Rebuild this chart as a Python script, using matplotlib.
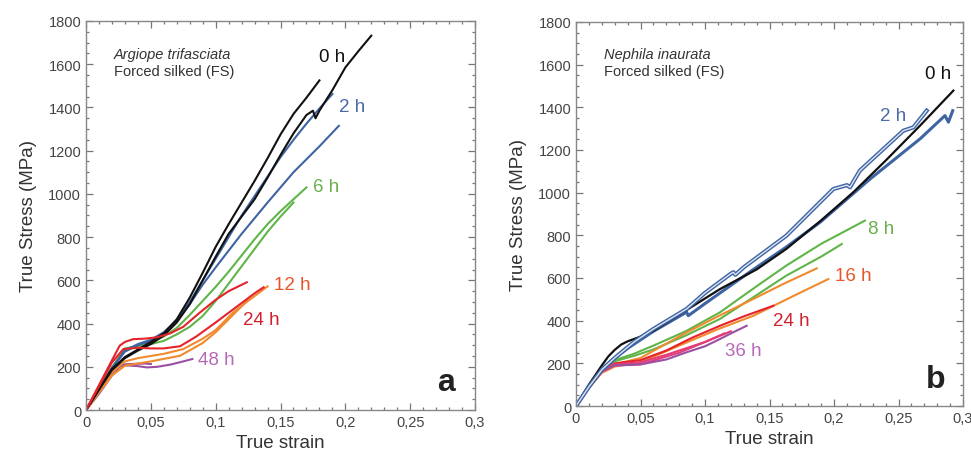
import matplotlib
matplotlib.use("Agg")
import matplotlib.pyplot as plt
from matplotlib.ticker import MultipleLocator

plt.rcParams['font.family'] = ['Liberation Sans', 'DejaVu Sans']

# ---- panel a : Argiope trifasciata ----
black_a1_x = [0, 0.01, 0.02, 0.03, 0.04, 0.05, 0.06, 0.07, 0.08, 0.09, 0.10, 0.11, 0.12, 0.13, 0.14, 0.15, 0.16, 0.17, 0.18]
black_a1_y = [0, 95, 190, 245, 280, 315, 355, 420, 520, 635, 755, 860, 960, 1060, 1165, 1275, 1370, 1445, 1525]
black_a2_x = [0, 0.01, 0.02, 0.03, 0.04, 0.05, 0.06, 0.07, 0.08, 0.09, 0.10, 0.11, 0.12, 0.13, 0.14, 0.15, 0.16, 0.17, 0.175, 0.177, 0.18, 0.19, 0.20, 0.21, 0.22]
black_a2_y = [0, 95, 185, 240, 275, 305, 345, 405, 490, 600, 710, 815, 895, 975, 1075, 1180, 1280, 1365, 1385, 1350, 1385, 1480, 1585, 1660, 1732]
blue_a1_x = [0, 0.01, 0.02, 0.03, 0.04, 0.05, 0.06, 0.07, 0.08, 0.09, 0.10, 0.11, 0.12, 0.13, 0.14, 0.15, 0.16, 0.17, 0.18, 0.19]
blue_a1_y = [0, 100, 195, 270, 300, 320, 355, 415, 500, 600, 700, 800, 900, 990, 1080, 1170, 1250, 1325, 1395, 1462]
blue_a2_x = [0, 0.01, 0.02, 0.03, 0.04, 0.05, 0.06, 0.07, 0.08, 0.09, 0.10, 0.12, 0.14, 0.16, 0.18, 0.195]
blue_a2_y = [0, 100, 195, 275, 305, 325, 360, 415, 490, 580, 660, 815, 960, 1100, 1220, 1315]
green_a1_x = [0, 0.01, 0.02, 0.03, 0.04, 0.05, 0.06, 0.07, 0.08, 0.09, 0.10, 0.11, 0.12, 0.13, 0.14, 0.15, 0.16, 0.17]
green_a1_y = [0, 100, 195, 280, 300, 315, 340, 380, 440, 505, 570, 640, 715, 790, 860, 920, 975, 1030]
green_a2_x = [0, 0.01, 0.02, 0.03, 0.04, 0.05, 0.06, 0.07, 0.08, 0.09, 0.10, 0.11, 0.12, 0.13, 0.14, 0.15, 0.16]
green_a2_y = [0, 100, 195, 285, 295, 305, 320, 350, 385, 435, 505, 585, 665, 745, 825, 895, 960]
red_a1_x = [0, 0.01, 0.02, 0.026, 0.03, 0.0365, 0.045, 0.0545, 0.065, 0.075, 0.088, 0.10, 0.11, 0.124]
red_a1_y = [0, 115, 230, 298, 315, 328, 330, 336, 355, 385, 452, 510, 550, 591]
red_a2_x = [0, 0.01, 0.02, 0.0288, 0.04, 0.05, 0.06, 0.0725, 0.085, 0.10, 0.11, 0.12, 0.13, 0.137]
red_a2_y = [0, 110, 220, 282, 288, 285, 285, 295, 340, 405, 450, 495, 540, 568]
orange_a1_x = [0, 0.01, 0.02, 0.03, 0.04, 0.05, 0.06, 0.075, 0.09, 0.10, 0.1136, 0.125, 0.14]
orange_a1_y = [0, 90, 175, 225, 240, 250, 260, 282, 330, 370, 452, 505, 572]
orange_a2_x = [0, 0.01, 0.02, 0.03, 0.05, 0.0725, 0.09, 0.10, 0.11, 0.12, 0.125]
orange_a2_y = [0, 80, 160, 205, 225, 251, 310, 360, 420, 480, 510]
purple_a1_x = [0, 0.01, 0.02, 0.026, 0.03, 0.04, 0.047, 0.055, 0.065, 0.075, 0.082]
purple_a1_y = [0, 75, 160, 200, 207, 203, 197, 200, 210, 225, 236]
purple_a2_x = [0, 0.01, 0.02, 0.026, 0.035, 0.045, 0.05]
purple_a2_y = [0, 85, 175, 210, 213, 215, 213]

# ---- panel b : Nephila inaurata ----
black_b_x = [0, 0.01, 0.02, 0.025, 0.03, 0.035, 0.04, 0.05, 0.06, 0.08, 0.1116, 0.14, 0.163, 0.19, 0.215, 0.24, 0.2667, 0.2925]
black_b_y = [0, 100, 190, 232, 263, 288, 303, 325, 352, 428, 548, 640, 736, 870, 1002, 1150, 1314, 1478]
blue_b1_x = [0, 0.01, 0.02, 0.03, 0.045, 0.06, 0.0858, 0.10, 0.12, 0.122, 0.1235, 0.13, 0.163, 0.18, 0.1995, 0.21, 0.2124, 0.22, 0.2537, 0.2615, 0.2718]
blue_b1_y = [0, 90, 170, 225, 300, 361, 455, 530, 620, 627, 615, 650, 798, 900, 1017, 1035, 1025, 1103, 1290, 1306, 1384]
blue_b2_x = [0, 0.01, 0.02, 0.03, 0.04, 0.05, 0.06, 0.08, 0.0858, 0.087, 0.10, 0.1375, 0.163, 0.189, 0.228, 0.2667, 0.286, 0.2887, 0.292]
blue_b2_y = [0, 90, 170, 225, 270, 310, 350, 420, 440, 423, 480, 640, 745, 860, 1064, 1252, 1361, 1330, 1384]
green_b1_x = [0, 0.01, 0.02, 0.03, 0.045, 0.06, 0.085, 0.1116, 0.135, 0.163, 0.19, 0.224]
green_b1_y = [0, 95, 170, 215, 245, 283, 350, 439, 540, 658, 760, 869]
green_b2_x = [0, 0.01, 0.02, 0.03, 0.045, 0.06, 0.085, 0.1116, 0.135, 0.163, 0.19, 0.206]
green_b2_y = [0, 95, 170, 210, 235, 265, 330, 408, 500, 611, 700, 759]
orange_b1_x = [0, 0.01, 0.02, 0.03, 0.05, 0.0858, 0.11, 0.1375, 0.16, 0.1866]
orange_b1_y = [0, 85, 160, 195, 225, 345, 420, 502, 570, 645]
orange_b2_x = [0, 0.01, 0.02, 0.03, 0.05, 0.0858, 0.11, 0.1375, 0.17, 0.1956]
orange_b2_y = [0, 85, 155, 185, 205, 298, 360, 423, 520, 595]
red_b_x = [0, 0.01, 0.02, 0.03, 0.05, 0.07, 0.09, 0.1116, 0.13, 0.153]
red_b_y = [0, 90, 165, 200, 215, 260, 320, 376, 420, 470]
pink_b1_x = [0, 0.01, 0.02, 0.03, 0.05, 0.07, 0.10, 0.12]
pink_b1_y = [0, 90, 165, 195, 205, 240, 300, 350]
pink_b2_x = [0, 0.01, 0.02, 0.03, 0.05, 0.08, 0.10, 0.115]
pink_b2_y = [0, 88, 160, 190, 195, 250, 300, 340]
purple_b_x = [0, 0.01, 0.02, 0.03, 0.05, 0.07, 0.0858, 0.10, 0.1116, 0.12, 0.1323]
purple_b_y = [0, 85, 165, 190, 195, 218, 252, 280, 314, 340, 376]

x_ticks = [0, 0.05, 0.1, 0.15, 0.2, 0.25, 0.3]
x_tick_labels = ["0", "0,05", "0,1", "0,15", "0,2", "0,25", "0,3"]
y_ticks = [0, 200, 400, 600, 800, 1000, 1200, 1400, 1600, 1800]

BLACK = "#111111"
BLUE = "#3f64a3"
GREEN = "#5fb548"
ORANGE = "#f08a2e"
RED = "#e5232b"
PINK = "#e23d78"
PURPLE = "#9a4fa3"

fig = plt.figure(figsize=(9.71, 4.6), dpi=100)
ax_a = fig.add_axes([0.0886, 0.1065, 0.4006, 0.8457])
ax_b = fig.add_axes([0.5932, 0.1152, 0.3986, 0.835])

lw = 1.5
curves_a = [
    (purple_a2_x, purple_a2_y, PURPLE), (purple_a1_x, purple_a1_y, PURPLE),
    (orange_a2_x, orange_a2_y, ORANGE), (orange_a1_x, orange_a1_y, ORANGE),
    (green_a2_x, green_a2_y, GREEN), (green_a1_x, green_a1_y, GREEN),
    (blue_a2_x, blue_a2_y, BLUE), (blue_a1_x, blue_a1_y, BLUE),
    (black_a1_x, black_a1_y, BLACK), (black_a2_x, black_a2_y, BLACK),
    (red_a2_x, red_a2_y, RED), (red_a1_x, red_a1_y, RED),
]
for xs, ys, c in curves_a:
    ax_a.plot(xs, ys, color=c, lw=lw)

curves_b = [
    (green_b1_x, green_b1_y, GREEN), (green_b2_x, green_b2_y, GREEN),
    (orange_b1_x, orange_b1_y, ORANGE), (orange_b2_x, orange_b2_y, ORANGE),
    (red_b_x, red_b_y, RED), (pink_b1_x, pink_b1_y, PINK), (pink_b2_x, pink_b2_y, PINK),
    (purple_b_x, purple_b_y, PURPLE),
]
for xs, ys, c in curves_b:
    ax_b.plot(xs, ys, color=c, lw=lw)
# the 2 h curves look hollow (outlined) in the original
ax_b.plot(blue_b2_x, blue_b2_y, color=BLUE, lw=2.2)
ax_b.plot(black_b_x, black_b_y, color=BLACK, lw=1.6)
ax_b.plot(blue_b1_x, blue_b1_y, color=BLUE, lw=3.0)
ax_b.plot(blue_b1_x, blue_b1_y, color="#dde5f1", lw=1.0)

for ax in (ax_a, ax_b):
    ax.set_xlim(0, 0.3)
    ax.set_ylim(0, 1800)
    ax.set_xticks(x_ticks)
    ax.set_xticklabels(x_tick_labels)
    ax.set_yticks(y_ticks)
    ax.xaxis.set_minor_locator(MultipleLocator(0.01))
    ax.yaxis.set_minor_locator(MultipleLocator(50))
    ax.tick_params(which='both', direction='in', top=True, right=True,
                   colors='#777777', labelcolor='#444444', labelsize=10.5, width=0.9)
    ax.tick_params(which='major', length=5)
    ax.tick_params(which='minor', length=2.5)
    for s in ax.spines.values():
        s.set_color('#888888')
        s.set_linewidth(1.0)
    ax.set_xlabel("True strain", fontsize=13.5, color='#333333', labelpad=4)
    ax.set_ylabel("True Stress (MPa)", fontsize=13.5, color='#333333', labelpad=8)

# annotations panel a
ax_a.text(0.0216, 1647, "Argiope trifasciata", style='italic', fontsize=10.5, color='#333333', va='center')
ax_a.text(0.0216, 1569, "Forced silked (FS)", fontsize=10.5, color='#333333', va='center')
ax_a.text(0.18, 1635, "0 h", fontsize=13.5, color=BLACK, va='center')
ax_a.text(0.195, 1406, "2 h", fontsize=13.5, color="#4a6aa8", va='center')
ax_a.text(0.175, 1032, "6 h", fontsize=13.5, color="#6ab04c", va='center')
ax_a.text(0.145, 583, "12 h", fontsize=13.5, color="#e8552a", va='center')
ax_a.text(0.121, 417, "24 h", fontsize=13.5, color="#d02030", va='center')
ax_a.text(0.0865, 236, "48 h", fontsize=13.5, color="#b868b8", va='center')
ax_a.text(0.271, 130, "a", fontsize=23, fontweight='bold', color='#222222', va='center')

# annotations panel b
ax_b.text(0.022, 1650, "Nephila inaurata", style='italic', fontsize=10.5, color='#333333', va='center')
ax_b.text(0.022, 1569, "Forced silked (FS)", fontsize=10.5, color='#333333', va='center')
ax_b.text(0.2705, 1556, "0 h", fontsize=13.5, color=BLACK, va='center')
ax_b.text(0.2357, 1361, "2 h", fontsize=13.5, color="#4a6aa8", va='center')
ax_b.text(0.2266, 830, "8 h", fontsize=13.5, color="#6ab04c", va='center')
ax_b.text(0.2008, 611, "16 h", fontsize=13.5, color="#e8552a", va='center')
ax_b.text(0.153, 400, "24 h", fontsize=13.5, color="#d02030", va='center')
ax_b.text(0.1155, 259, "36 h", fontsize=13.5, color="#b868b8", va='center')
ax_b.text(0.271, 127, "b", fontsize=23, fontweight='bold', color='#222222', va='center')

fig.savefig("out.png", dpi=100)
